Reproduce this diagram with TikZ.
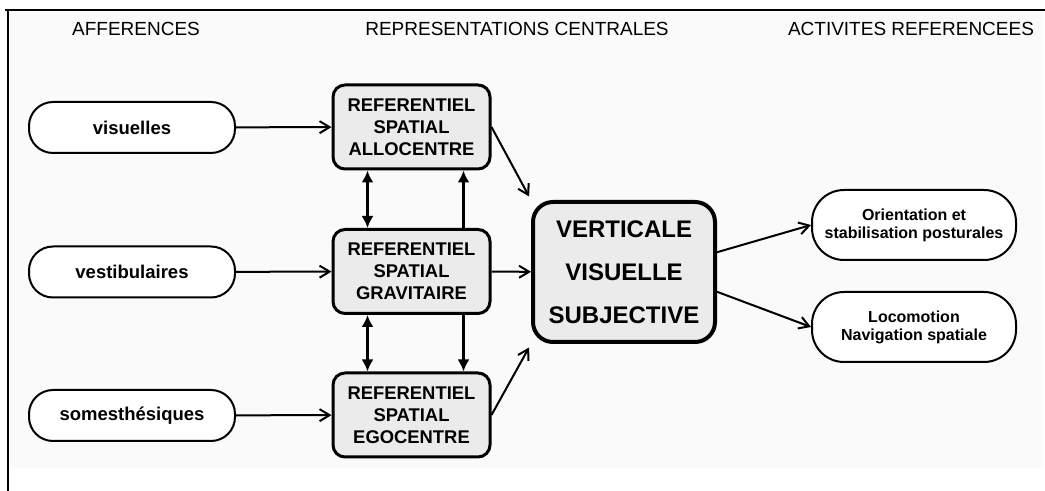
\documentclass[tikz,border=0pt]{standalone}
\usepackage{fontspec}
\setmainfont{Liberation Sans}
\usetikzlibrary{arrows.meta}
\definecolor{pagegray}{HTML}{FAFAFA}
\definecolor{boxgray}{HTML}{EBEBEB}
\tikzset{
    inputnode/.style={draw, line width=1pt, fill=white, rounded corners=12pt, minimum width=103pt, minimum height=25.5pt, inner sep=0pt, font=\fontsize{9.25}{11}\selectfont\bfseries},
    refnode/.style={draw, line width=1.5pt, fill=boxgray, rounded corners=6pt, minimum width=78.5pt, minimum height=42pt, inner sep=0pt, align=center, font=\fontsize{9.2}{11}\selectfont\bfseries},
    vvsnode/.style={draw, line width=2pt, fill=boxgray, rounded corners=10pt, minimum width=91pt, minimum height=70pt, inner sep=0pt, align=center, font=\fontsize{12}{21.5}\selectfont\bfseries},
    outnode/.style={draw, line width=1pt, fill=white, rounded corners=16pt, minimum width=102pt, minimum height=35pt, inner sep=0pt, align=center, font=\fontsize{8}{9}\selectfont\bfseries},
    headtext/.style={font=\fontsize{9.5}{11}\selectfont},
    thinarrow/.style={-{Straight Barb[length=5pt,width=6pt]}, line width=1pt},
    thickarrow/.style={line width=1.5pt},
    tiphead/.tip={Latex[length=6pt,width=6pt]}
}

\begin{document}
\begin{tikzpicture}[x=0.5pt, y=-0.5pt]
    \useasboundingbox (0,0) rectangle (1045,491);
    % page frame
    \fill[pagegray] (10,12) rectangle (1043,468);
    \draw[line width=1pt] (5,10) -- (1045,10);
    \draw[line width=1pt] (8,10) -- (8,491);

    % column titles
    \node[headtext] (hafferences) at (136,29) {AFFERENCES};
    \node[headtext] (hcentral) at (517,29) {REPRESENTATIONS CENTRALES};
    \node[headtext] (hactivites) at (911,29) {ACTIVITES REFERENCEES};

    % afferences
    \node[inputnode] (visu) at (132,127.5) {visuelles};
    \node[inputnode] (vest) at (132,272) {vestibulaires};
    \node[inputnode] (some) at (132,415.5) {somesthésiques};

    % referentiels
    \node[refnode] (allo) at (411.5,127) {REFERENTIEL\\SPATIAL\\ALLOCENTRE};
    \node[refnode] (grav) at (411.5,271.5) {REFERENTIEL\\SPATIAL\\GRAVITAIRE};
    \node[refnode] (ego) at (411.5,415) {REFERENTIEL\\SPATIAL\\EGOCENTRE};

    \node[vvsnode] (vvs) at (624,272) {VERTICALE\\VISUELLE\\SUBJECTIVE};

    % activites
    \node[outnode] (orient) at (914,225) {Orientation et\\stabilisation posturales};
    \node[outnode] (loco) at (914,327) {Locomotion\\Navigation spatiale};

    \draw[thinarrow] (visu) -- (allo);
    \draw[thinarrow] (vest) -- (grav);
    \draw[thinarrow] (some) -- (ego);

    \draw[thickarrow, tiphead-tiphead] ([xshift=-22pt]allo.south) -- ([xshift=-22pt]grav.north);
    \draw[thickarrow, -tiphead] ([xshift=26pt]grav.north) -- ([xshift=26pt]allo.south);
    \draw[thickarrow, tiphead-tiphead] ([xshift=-22pt]grav.south) -- ([xshift=-22pt]ego.north);
    \draw[thickarrow, -tiphead] ([xshift=26pt]grav.south) -- ([xshift=26pt]ego.north);

    \draw[thinarrow, shorten >=2pt] (allo.east) -- (vvs.north west);
    \draw[thinarrow] (grav) -- (vvs);
    \draw[thinarrow, shorten >=2pt] (ego.east) -- (vvs.south west);

    \draw[thinarrow] (vvs.12) -- (orient.west);
    \draw[thinarrow] (vvs.-12) -- (loco.west);
\end{tikzpicture}
\end{document}
